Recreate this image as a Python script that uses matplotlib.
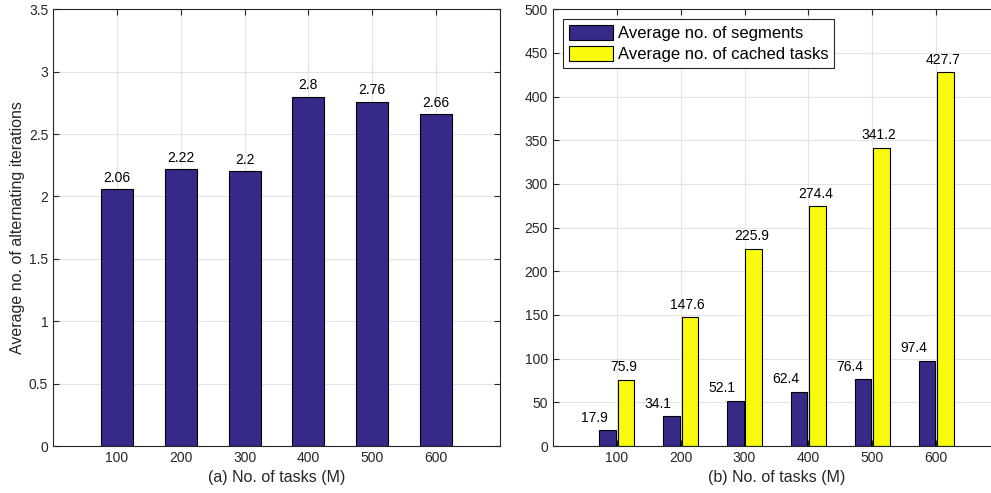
import numpy as np
import matplotlib
matplotlib.use('Agg')
import matplotlib.pyplot as plt
from matplotlib.ticker import FormatStrFormatter

plt.rcParams['font.family'] = ['Liberation Sans', 'DejaVu Sans']

# data
tasks = ['100', '200', '300', '400', '500', '600']
iterations = [2.06, 2.22, 2.2, 2.8, 2.76, 2.66]
segments = [17.9, 34.1, 52.1, 62.4, 76.4, 97.4]
cached = [75.9, 147.6, 225.9, 274.4, 341.2, 427.7]

blue = '#352a87'
yellow = '#f9fb0e'
txt = '#262626'

fig = plt.figure(figsize=(9.91, 4.93), dpi=100)
ax1 = fig.add_axes([0.0535, 0.0953, 0.451, 0.886])
ax2 = fig.add_axes([0.558, 0.0953, 0.451, 0.886])

x = np.arange(1, len(tasks) + 1)


def style_axes(ax):
    ax.set_xlim(0, 7)
    ax.set_xticks(x)
    ax.set_xticklabels(tasks)
    ax.grid(True, color='#e3e3e3', linewidth=0.8)
    ax.set_axisbelow(True)
    ax.tick_params(direction='in', top=True, right=True, length=4,
                   colors='#262626', labelsize=10, width=0.8)
    for s in ax.spines.values():
        s.set_color('#262626')
        s.set_linewidth(0.8)


# (a) alternating iterations
ax1.bar(x, iterations, width=0.5, color=blue, edgecolor='black', linewidth=0.8)
for xi, v in zip(x, iterations):
    ax1.annotate('%g' % v, (xi, v), xytext=(0, 3), textcoords='offset points',
                 ha='center', va='bottom', fontsize=10, color='black')
style_axes(ax1)
ax1.set_ylim(0, 3.5)
ax1.set_yticks(np.arange(0, 3.51, 0.5))
ax1.yaxis.set_major_formatter(FormatStrFormatter('%g'))
ax1.set_xlabel('(a) No. of tasks (M)', fontsize=11.5, color=txt, labelpad=4)
ax1.set_ylabel('Average no. of alternating iterations', fontsize=11.5, color=txt, labelpad=3)

# (b) segments and cached tasks
w = 0.26
off = 0.145
ax2.bar(x - off, segments, width=w, color=blue, edgecolor='black', linewidth=0.8,
        label='Average no. of segments')
ax2.bar(x + off, cached, width=w, color=yellow, edgecolor='black', linewidth=0.8,
        label='Average no. of cached tasks')
for xi, v in zip(x, segments):
    ax2.annotate('%g' % v, (xi - 0.35, v), xytext=(0, 4), textcoords='offset points',
                 ha='center', va='bottom', fontsize=10, color='black')
for xi, v in zip(x, cached):
    ax2.annotate('%g' % v, (xi + 0.11, v), xytext=(0, 4), textcoords='offset points',
                 ha='center', va='bottom', fontsize=10, color='black')
style_axes(ax2)
ax2.set_ylim(0, 500)
ax2.set_yticks(np.arange(0, 501, 50))
ax2.set_xlabel('(b) No. of tasks (M)', fontsize=11.5, color=txt, labelpad=4)
leg = ax2.legend(loc='upper left', fontsize=12, fancybox=False, framealpha=1,
                 edgecolor='#262626', borderaxespad=0.6, handlelength=2.65,
                 handleheight=1.0, borderpad=0.35, labelspacing=0.3, handletextpad=0.3)
leg.get_frame().set_linewidth(0.8)

fig.savefig('out.png', dpi=100)
